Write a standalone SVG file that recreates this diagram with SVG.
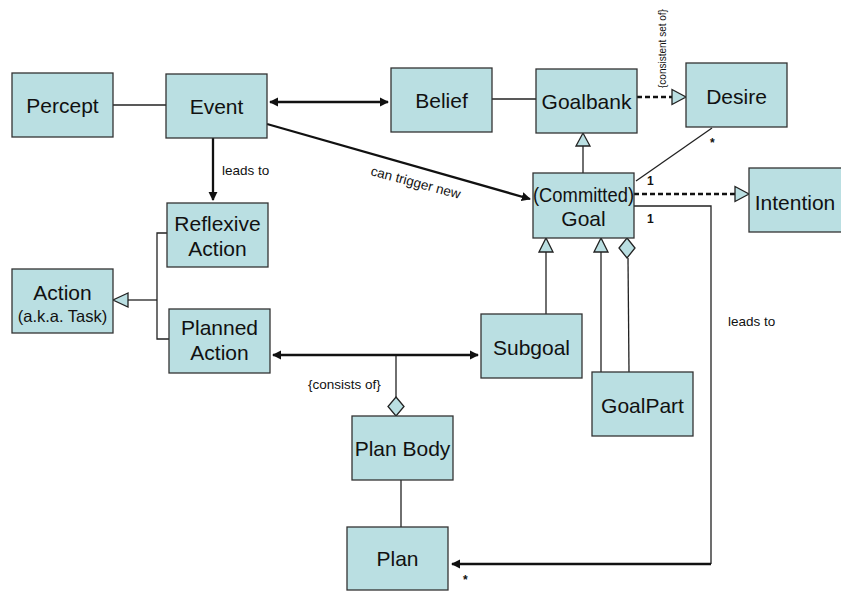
<svg xmlns="http://www.w3.org/2000/svg" width="841" height="591" viewBox="0 0 841 591">
<style>
.node rect{fill:#badfe2;stroke:#333;stroke-width:1.3}
.node text{font-family:"Liberation Sans",Arial,sans-serif;font-size:21px;fill:#111;text-anchor:middle;dominant-baseline:central}
.node text.sub{font-size:16.5px}
.c{fill:none;stroke:#222;stroke-width:1.3}
.t{fill:none;stroke:#111;stroke-width:2.3}
.d{fill:none;stroke:#111;stroke-width:2.3;stroke-dasharray:5 3}
.hollow{fill:#badfe2;stroke:#222;stroke-width:1.3}
.lbl{font-family:"Liberation Sans",Arial,sans-serif;font-size:13.5px;fill:#111}
.m{font-family:"Liberation Sans",Arial,sans-serif;font-size:12px;font-weight:bold;fill:#111}
</style>
<defs>
<marker id="ah" viewBox="0 0 10 10" refX="9" refY="5" markerWidth="4" markerHeight="4" orient="auto-start-reverse" markerUnits="strokeWidth">
<path d="M0,0 L10,5 L0,10 Z" fill="#111"/>
</marker>
</defs>
<rect width="841" height="591" fill="#fff"/>
<g id="connectors">
<line class="c" x1="113" y1="105" x2="166" y2="105"/>
<line class="t" x1="270" y1="102" x2="388" y2="102" marker-start="url(#ah)" marker-end="url(#ah)"/>
<line class="c" x1="492" y1="99" x2="536" y2="99"/>
<line class="d" x1="637" y1="97" x2="672" y2="97"/>
<polygon class="hollow" points="672,89.5 686,97 672,104.5"/>
<text class="lbl" style="font-size:10px" transform="translate(666,88) rotate(-90)">{consistent set of}</text>
<line class="c" x1="583" y1="173" x2="583" y2="146"/>
<polygon class="hollow" points="576,146 583,133 590,146"/>
<line class="c" x1="712" y1="128" x2="636" y2="181"/>
<text class="m" x="710" y="147">*</text>
<text class="m" x="647" y="185">1</text>
<line class="d" x1="634" y1="194" x2="735" y2="194"/>
<polygon class="hollow" points="735,186.5 749,194 735,201.5"/>
<polyline class="c" points="634,206 711,206 711,564"/>
<line class="t" x1="711" y1="564" x2="452" y2="564" marker-end="url(#ah)"/>
<text class="m" x="647" y="223">1</text>
<text class="m" x="463" y="584">*</text>
<text class="lbl" x="728" y="326">leads to</text>
<line class="t" x1="267" y1="124" x2="530" y2="199" marker-end="url(#ah)"/>
<text class="lbl" transform="translate(370,175) rotate(15)">can trigger new</text>
<line class="t" x1="213" y1="138" x2="213" y2="200" marker-end="url(#ah)"/>
<text class="lbl" x="222" y="175">leads to</text>
<polygon class="hollow" points="128,293 113,300 128,307"/>
<line class="c" x1="128" y1="300" x2="157" y2="300"/>
<polyline class="c" points="167,233 157,233 157,339 169,339"/>
<line class="t" x1="273" y1="355" x2="478" y2="355" marker-start="url(#ah)" marker-end="url(#ah)"/>
<line class="c" x1="396" y1="356" x2="396" y2="398"/>
<polygon class="hollow" points="396,397 404,406.5 396,416 388,406.5"/>
<text class="lbl" x="308" y="389">{consists of}</text>
<line class="c" x1="401" y1="480" x2="401" y2="527"/>
<line class="c" x1="546" y1="314" x2="546" y2="252"/>
<polygon class="hollow" points="539,252 546,238 553,252"/>
<line class="c" x1="601" y1="372" x2="601" y2="252"/>
<polygon class="hollow" points="594,252 601,238 608,252"/>
<line class="c" x1="628" y1="258" x2="629" y2="372"/>
<polygon class="hollow" points="627,238 635,248 627,258 619,248"/>
</g>
<g id="percept" class="node"><rect x="12" y="73" width="101" height="64"/><text x="62.5" y="105">Percept</text></g>
<g id="event" class="node"><rect x="166" y="74" width="101" height="64"/><text x="216.5" y="106">Event</text></g>
<g id="belief" class="node"><rect x="391" y="68" width="101" height="64"/><text x="441.5" y="100">Belief</text></g>
<g id="goalbank" class="node"><rect x="536" y="69" width="101" height="64"/><text x="586.5" y="101">Goalbank</text></g>
<g id="desire" class="node"><rect x="686" y="63" width="101" height="64"/><text x="736.5" y="96">Desire</text></g>
<g id="goal" class="node"><rect x="533" y="173" width="101" height="65"/><text x="583.5" y="194" textLength="101" lengthAdjust="spacingAndGlyphs">(Committed)</text><text x="583.5" y="218">Goal</text></g>
<g id="intention" class="node"><rect x="749" y="168" width="101" height="64"/><text x="795" y="202">Intention</text></g>
<g id="reflexive" class="node"><rect x="167" y="203" width="101" height="64"/><text x="217.5" y="223">Reflexive</text><text x="217.5" y="248">Action</text></g>
<g id="action" class="node"><rect x="12" y="269" width="101" height="64"/><text x="62.5" y="292">Action</text><text class="sub" x="62.5" y="316">(a.k.a. Task)</text></g>
<g id="planned" class="node"><rect x="169" y="309" width="101" height="64"/><text x="219.5" y="327">Planned</text><text x="219.5" y="352">Action</text></g>
<g id="subgoal" class="node"><rect x="481" y="314" width="101" height="64"/><text x="531.5" y="347">Subgoal</text></g>
<g id="goalpart" class="node"><rect x="592" y="372" width="101" height="64"/><text x="642.5" y="405">GoalPart</text></g>
<g id="planbody" class="node"><rect x="352" y="416" width="101" height="64"/><text x="402.5" y="448">Plan Body</text></g>
<g id="plan" class="node"><rect x="347" y="527" width="101" height="63"/><text x="397.5" y="558">Plan</text></g>
</svg>
